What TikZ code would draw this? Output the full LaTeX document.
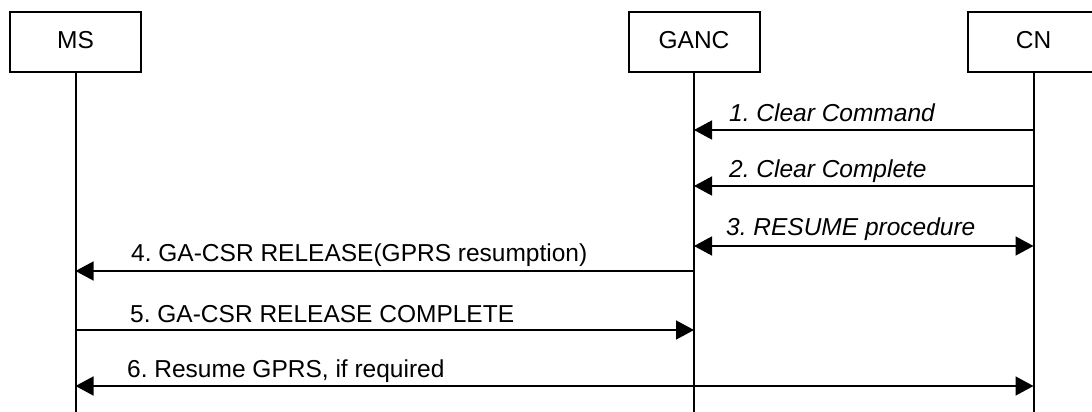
\documentclass[tikz,border=0pt]{standalone}
\usepackage{fontspec}
\setmainfont{Liberation Sans}
\usetikzlibrary{arrows.meta, math}
\frenchspacing

\begin{document}
\begin{tikzpicture}[x=1pt, y=-1pt,
  font=\fontsize{24.5}{29}\selectfont,
  entity/.style={draw, line width=2pt, minimum width=131pt, minimum height=60pt, text depth=6pt, inner sep=0pt},
  life/.style={line width=2pt},
  msg/.style={line width=1.5pt, -{Triangle[length=18pt,width=19pt]}},
  bimsg/.style={line width=1.5pt, {Triangle[length=18pt,width=19pt]}-{Triangle[length=18pt,width=19pt]}},
  lbl/.style={anchor=base west, inner sep=0pt}]
\tikzmath{
\xMS=75.5;
\xGA=694;
\xCN=1033.5;
\yBox=42.5;
\yEnd=412;
}
\useasboundingbox (0,0) rectangle (1092,412);

% entities and lifelines
\node[entity] (ms) at (\xMS,\yBox) {MS};
\node[entity] (ganc) at (\xGA,\yBox) {GANC};
\node[entity] (cn) at (\xCN,\yBox) {CN};

\coordinate (bottom) at (0,\yEnd);
\draw[life] (ms.south) -- (ms |- bottom);
\draw[life] (ganc.south) -- (ganc |- bottom);
\draw[life] (cn.south) -- (cn |- bottom);

% message rows
\coordinate (r1) at (0,130);
\coordinate (r2) at (0,186);
\coordinate (r3) at (0,246);
\coordinate (r4) at (0,271);
\coordinate (r5) at (0,330);
\coordinate (r6) at (0,386);

\draw[msg] (cn |- r1) -- (ganc |- r1);
\node[lbl] (l1) at (729,121.7) {\itshape 1. Clear Command};

\draw[msg] (cn |- r2) -- (ganc |- r2);
\node[lbl] (l2) at (729,177.5) {\itshape 2. Clear Complete};

\draw[bimsg] (ganc |- r3) -- (cn |- r3);
\node[lbl] (l3) at (726,235) {\itshape 3. RESUME procedure};

\draw[msg] (ganc |- r4) -- (ms |- r4);
\node[lbl] (l4) at (131,261) {4. GA-CSR RELEASE(GPRS resumption)};

\draw[msg] (ms |- r5) -- (ganc |- r5);
\node[lbl] (l5) at (130,322) {5. GA-CSR RELEASE COMPLETE};

\draw[bimsg] (ms |- r6) -- (cn |- r6);
\node[lbl] (l6) at (127,377) {6. Resume GPRS, if required};

\end{tikzpicture}
\end{document}
